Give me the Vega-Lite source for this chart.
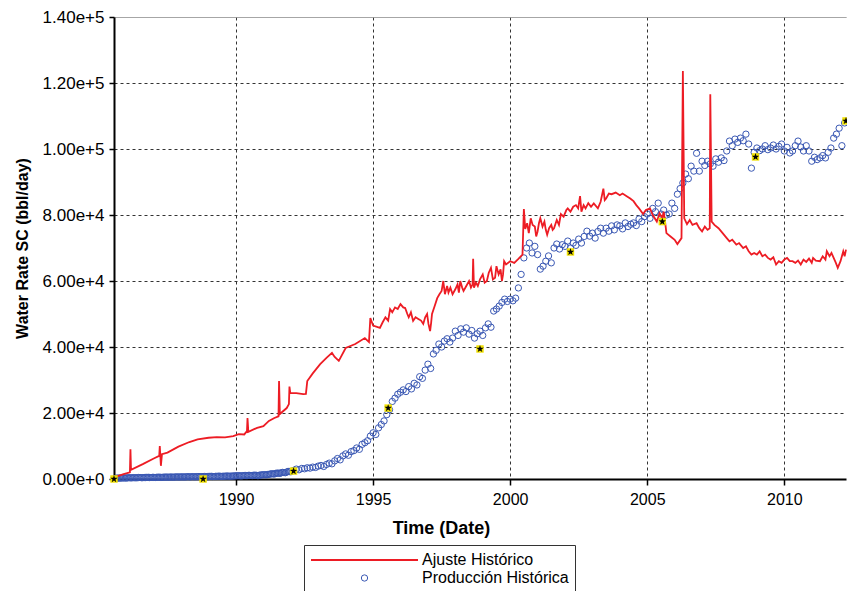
{
"$schema": "https://vega.github.io/schema/vega-lite/v6.json",
"width": 732, "height": 462,
"autosize": {"type": "none"},
"padding": {"left": 114, "top": 17, "right": 1, "bottom": 112},
"background": "white",
"config": {
  "view": {"stroke": null},
  "axis": {"domainColor": "black", "domainWidth": 2, "tickColor": "black", "tickWidth": 1.5, "gridColor": "#333", "gridWidth": 1, "labelFont": "Liberation Sans", "labelColor": "black", "titleFont": "Liberation Sans", "titleFontWeight": "bold", "titleColor": "black", "labelFlush": false, "labelOverlap": false},
  "legend": {"orient": "none", "legendX": 190, "legendY": 528, "direction": "vertical", "columns": 1, "padding": 6, "strokeColor": "#333", "fillColor": "white", "labelFont": "Liberation Sans", "labelFontSize": 16, "labelColor": "black", "labelLimit": 400, "labelOffset": 3, "clipHeight": 18, "rowPadding": 0}
},
"datasets": {
  "red": [
    {"t":1985.55,"v":500},{"t":1985.9,"v":1500},{"t":1986.13,"v":2000},{"t":1986.15,"v":9000},{"t":1986.17,"v":2800},{"t":1986.6,"v":4500},{"t":1987.0,"v":6200},{"t":1987.2,"v":7000},{"t":1987.22,"v":10000},{"t":1987.26,"v":4000},{"t":1987.3,"v":7500},{"t":1987.5,"v":8000},{"t":1987.9,"v":9800},{"t":1988.3,"v":11200},{"t":1988.6,"v":12000},{"t":1989.0,"v":12500},{"t":1989.3,"v":12700},{"t":1989.6,"v":12600},{"t":1989.9,"v":13000},{"t":1990.1,"v":13600},{"t":1990.3,"v":13500},{"t":1990.4,"v":14500},{"t":1990.42,"v":18500},{"t":1990.45,"v":14300},{"t":1990.77,"v":15500},{"t":1991.0,"v":16000},{"t":1991.2,"v":17600},{"t":1991.4,"v":18500},{"t":1991.55,"v":19000},{"t":1991.57,"v":29700},{"t":1991.6,"v":19700},{"t":1991.85,"v":21500},{"t":1991.93,"v":22700},{"t":1991.95,"v":28000},{"t":1991.98,"v":26000},{"t":1992.2,"v":26000},{"t":1992.45,"v":25700},{"t":1992.55,"v":25800},{"t":1992.6,"v":29700},{"t":1992.8,"v":32000},{"t":1993.07,"v":34800},{"t":1993.3,"v":36700},{"t":1993.5,"v":38200},{"t":1993.6,"v":37000},{"t":1993.75,"v":35800},{"t":1994.0,"v":39700},{"t":1994.35,"v":40900},{"t":1994.7,"v":42700},{"t":1994.85,"v":41500},{"t":1994.9,"v":48800},{"t":1995.0,"v":46500},
    {"t":1995.25,"v":45800},{"t":1995.35,"v":47500},{"t":1995.45,"v":49000},{"t":1995.55,"v":48000},{"t":1995.62,"v":51500},{"t":1995.7,"v":50500},{"t":1995.8,"v":52000},{"t":1995.9,"v":51500},{"t":1996.0,"v":53000},{"t":1996.1,"v":52000},{"t":1996.17,"v":51800},{"t":1996.25,"v":50000},{"t":1996.3,"v":49000},{"t":1996.38,"v":50500},{"t":1996.46,"v":47900},{"t":1996.55,"v":49000},{"t":1996.65,"v":48500},{"t":1996.75,"v":48000},{"t":1996.83,"v":47000},{"t":1996.9,"v":49000},{"t":1996.97,"v":50000},{"t":1997.02,"v":47000},{"t":1997.08,"v":44800},{"t":1997.12,"v":47500},{"t":1997.15,"v":50000},{"t":1997.25,"v":52500},{"t":1997.34,"v":54800},{"t":1997.42,"v":56000},{"t":1997.5,"v":57000},{"t":1997.56,"v":60000},{"t":1997.62,"v":56000},{"t":1997.7,"v":58500},{"t":1997.75,"v":56500},{"t":1997.82,"v":58000},{"t":1997.9,"v":56000},{"t":1998.0,"v":57500},{"t":1998.08,"v":59000},{"t":1998.13,"v":56500},{"t":1998.18,"v":60000},{"t":1998.25,"v":58000},{"t":1998.3,"v":57000},{"t":1998.4,"v":58500},{"t":1998.5,"v":60000},{"t":1998.57,"v":58000},{"t":1998.63,"v":59000},{"t":1998.65,"v":66700},{"t":1998.68,"v":58000},{"t":1998.75,"v":59500},{"t":1998.82,"v":58500},{"t":1998.9,"v":60500},{"t":1999.0,"v":62000},{"t":1999.07,"v":59500},{"t":1999.15,"v":60000},{"t":1999.22,"v":62500},{"t":1999.3,"v":64000},{"t":1999.37,"v":60500},{"t":1999.45,"v":61000},{"t":1999.5,"v":64500},{"t":1999.58,"v":62000},{"t":1999.65,"v":63500},{"t":1999.7,"v":60000},{"t":1999.74,"v":62000},{"t":1999.78,"v":66000},{"t":1999.85,"v":65000},
    {"t":2000.0,"v":66000},{"t":2000.15,"v":65500},{"t":2000.3,"v":66700},{"t":2000.45,"v":68000},{"t":2000.5,"v":81800},{"t":2000.55,"v":75800},{"t":2000.62,"v":77500},{"t":2000.68,"v":74500},{"t":2000.75,"v":79000},{"t":2000.82,"v":77000},{"t":2000.9,"v":76500},{"t":2000.95,"v":73500},{"t":2001.0,"v":75000},{"t":2001.05,"v":77500},{"t":2001.1,"v":79000},{"t":2001.18,"v":76500},{"t":2001.25,"v":78000},{"t":2001.3,"v":75500},{"t":2001.35,"v":74000},{"t":2001.42,"v":76000},{"t":2001.5,"v":77000},{"t":2001.55,"v":75500},{"t":2001.6,"v":76000},{"t":2001.7,"v":78500},{"t":2001.78,"v":77000},{"t":2001.85,"v":80300},{"t":2001.95,"v":79500},{"t":2002.05,"v":81500},{"t":2002.1,"v":82000},{"t":2002.2,"v":81000},{"t":2002.3,"v":82500},{"t":2002.4,"v":83000},{"t":2002.48,"v":82000},{"t":2002.55,"v":85700},{"t":2002.6,"v":81000},{"t":2002.68,"v":83000},{"t":2002.75,"v":82000},{"t":2002.85,"v":83600},{"t":2002.95,"v":82500},{"t":2003.05,"v":83500},{"t":2003.2,"v":82000},{"t":2003.3,"v":84000},{"t":2003.4,"v":88000},{"t":2003.45,"v":84500},{"t":2003.5,"v":85000},{"t":2003.6,"v":86500},{"t":2003.7,"v":86300},{"t":2003.85,"v":86800},{"t":2004.0,"v":86000},{"t":2004.1,"v":86500},{"t":2004.25,"v":85700},{"t":2004.38,"v":85000},{"t":2004.5,"v":84200},{"t":2004.6,"v":83000},{"t":2004.7,"v":82000},{"t":2004.85,"v":80300},{"t":2004.95,"v":81500},{"t":2005.1,"v":82000},{"t":2005.2,"v":80000},{"t":2005.35,"v":78000},{"t":2005.45,"v":80500},{"t":2005.55,"v":79000},{"t":2005.6,"v":81000},{"t":2005.65,"v":78000},{"t":2005.7,"v":74500},{"t":2005.85,"v":73500},{"t":2006.0,"v":72500},{"t":2006.1,"v":71200},{"t":2006.25,"v":73000},{"t":2006.3,"v":123600},{"t":2006.35,"v":79000},{"t":2006.45,"v":77200},{"t":2006.55,"v":78500},{"t":2006.65,"v":77000},{"t":2006.8,"v":77500},{"t":2006.9,"v":76000},{"t":2007.0,"v":75000},{"t":2007.1,"v":76500},{"t":2007.2,"v":75500},{"t":2007.28,"v":76000},{"t":2007.3,"v":116600},{"t":2007.35,"v":78000},{"t":2007.45,"v":77000},{"t":2007.6,"v":76000},{"t":2007.75,"v":74500},{"t":2007.9,"v":73000},{"t":2008.0,"v":72000},{"t":2008.1,"v":72500},{"t":2008.25,"v":71000},{"t":2008.35,"v":71500},{"t":2008.5,"v":70000},{"t":2008.6,"v":70500},{"t":2008.7,"v":69000},{"t":2008.8,"v":68000},{"t":2008.9,"v":68500},{"t":2009.0,"v":68000},{"t":2009.1,"v":69000},{"t":2009.2,"v":67500},{"t":2009.3,"v":68000},{"t":2009.4,"v":67000},{"t":2009.5,"v":66500},{"t":2009.6,"v":67200},{"t":2009.7,"v":65000},{"t":2009.8,"v":66000},{"t":2009.9,"v":65500},{"t":2010.0,"v":66500},{"t":2010.1,"v":67000},{"t":2010.2,"v":66000},{"t":2010.3,"v":66000},{"t":2010.4,"v":65500},{"t":2010.5,"v":66200},{"t":2010.6,"v":65000},{"t":2010.7,"v":66500},{"t":2010.8,"v":65800},{"t":2010.9,"v":66800},{"t":2011.0,"v":65500},{"t":2011.05,"v":67000},{"t":2011.15,"v":66200},{"t":2011.3,"v":66000},{"t":2011.4,"v":67500},{"t":2011.5,"v":66500},{"t":2011.55,"v":69000},{"t":2011.65,"v":67500},{"t":2011.72,"v":68500},{"t":2011.8,"v":67000},{"t":2011.88,"v":65500},{"t":2011.95,"v":64000},{"t":2012.05,"v":66000},{"t":2012.15,"v":69000},{"t":2012.2,"v":67500},{"t":2012.25,"v":69500}
  ],
  "blue": [
    {"t":1985.6,"v":200},{"t":1985.65,"v":250},{"t":1985.7,"v":300},{"t":1985.75,"v":250},{"t":1985.8,"v":300},{"t":1985.85,"v":300},{"t":1985.9,"v":350},{"t":1985.95,"v":300},{"t":1986.0,"v":300},{"t":1986.05,"v":350},{"t":1986.1,"v":400},{"t":1986.15,"v":350},{"t":1986.2,"v":350},{"t":1986.25,"v":400},{"t":1986.3,"v":400},{"t":1986.35,"v":350},{"t":1986.4,"v":400},{"t":1986.45,"v":450},{"t":1986.5,"v":450},{"t":1986.55,"v":400},{"t":1986.6,"v":400},{"t":1986.65,"v":450},{"t":1986.7,"v":450},{"t":1986.75,"v":500},{"t":1986.8,"v":500},{"t":1986.85,"v":450},{"t":1986.9,"v":450},{"t":1986.95,"v":500},{"t":1987.0,"v":500},{"t":1987.05,"v":450},{"t":1987.1,"v":500},{"t":1987.15,"v":550},{"t":1987.2,"v":550},{"t":1987.25,"v":500},{"t":1987.3,"v":500},{"t":1987.35,"v":550},{"t":1987.4,"v":550},{"t":1987.45,"v":600},{"t":1987.5,"v":550},{"t":1987.55,"v":550},{"t":1987.6,"v":600},{"t":1987.65,"v":600},{"t":1987.7,"v":550},{"t":1987.75,"v":600},{"t":1987.8,"v":600},{"t":1987.85,"v":650},{"t":1987.9,"v":600},{"t":1987.95,"v":600},{"t":1988.0,"v":650},{"t":1988.05,"v":650},{"t":1988.1,"v":600},{"t":1988.15,"v":650},{"t":1988.2,"v":650},{"t":1988.25,"v":700},{"t":1988.3,"v":650},{"t":1988.35,"v":650},{"t":1988.4,"v":700},{"t":1988.45,"v":700},{"t":1988.5,"v":650},{"t":1988.55,"v":700},{"t":1988.6,"v":700},{"t":1988.65,"v":750},{"t":1988.7,"v":700},{"t":1988.75,"v":700},{"t":1988.8,"v":750},{"t":1988.85,"v":750},{"t":1988.9,"v":700},{"t":1988.95,"v":750},{"t":1989.0,"v":750},{"t":1989.05,"v":800},{"t":1989.1,"v":800},{"t":1989.15,"v":750},{"t":1989.2,"v":750},{"t":1989.25,"v":800},{"t":1989.3,"v":800},{"t":1989.35,"v":850},{"t":1989.4,"v":850},{"t":1989.45,"v":800},{"t":1989.5,"v":800},{"t":1989.55,"v":850},{"t":1989.6,"v":850},{"t":1989.65,"v":900},{"t":1989.7,"v":900},{"t":1989.75,"v":850},{"t":1989.8,"v":850},{"t":1989.85,"v":900},{"t":1989.9,"v":900},{"t":1989.95,"v":950},
    {"t":1990.0,"v":950},{"t":1990.05,"v":1000},{"t":1990.1,"v":1000},{"t":1990.15,"v":950},{"t":1990.2,"v":950},{"t":1990.25,"v":1000},{"t":1990.3,"v":1050},{"t":1990.35,"v":1050},{"t":1990.4,"v":1000},{"t":1990.45,"v":1100},{"t":1990.5,"v":1100},{"t":1990.55,"v":1050},{"t":1990.6,"v":1050},{"t":1990.65,"v":1150},{"t":1990.7,"v":1150},{"t":1990.75,"v":1100},{"t":1990.8,"v":1000},{"t":1990.85,"v":1150},{"t":1990.9,"v":1200},{"t":1990.95,"v":1250},{"t":1991.0,"v":1300},{"t":1991.05,"v":1300},{"t":1991.1,"v":1250},{"t":1991.15,"v":1350},{"t":1991.2,"v":1400},{"t":1991.25,"v":1500},{"t":1991.3,"v":1600},{"t":1991.35,"v":1550},{"t":1991.4,"v":1500},{"t":1991.45,"v":1700},{"t":1991.5,"v":1800},{"t":1991.55,"v":1750},{"t":1991.6,"v":1700},{"t":1991.65,"v":1900},{"t":1991.7,"v":2000},{"t":1991.75,"v":1950},{"t":1991.8,"v":1900},{"t":1991.85,"v":2100},{"t":1991.9,"v":2300},{"t":1991.95,"v":2250},{"t":1992.0,"v":2200},{"t":1992.1,"v":2600},{"t":1992.2,"v":3000},{"t":1992.3,"v":2800},{"t":1992.4,"v":3200},{"t":1992.5,"v":3100},{"t":1992.6,"v":3400},{"t":1992.7,"v":3300},{"t":1992.8,"v":3600},{"t":1992.9,"v":3500},{"t":1993.0,"v":3900},{"t":1993.1,"v":4100},{"t":1993.2,"v":3800},{"t":1993.3,"v":4400},{"t":1993.4,"v":4800},{"t":1993.5,"v":4600},{"t":1993.6,"v":5500},{"t":1993.7,"v":6200},{"t":1993.8,"v":5800},{"t":1993.9,"v":7000},{"t":1994.0,"v":7600},{"t":1994.1,"v":7200},{"t":1994.2,"v":8300},{"t":1994.3,"v":8600},{"t":1994.4,"v":9400},{"t":1994.5,"v":9000},{"t":1994.6,"v":10500},{"t":1994.7,"v":11000},{"t":1994.8,"v":11600},{"t":1994.9,"v":13000},{"t":1995.0,"v":14000},{"t":1995.1,"v":13500},{"t":1995.2,"v":15500},{"t":1995.3,"v":16500},{"t":1995.4,"v":17600},{"t":1995.5,"v":19500},{"t":1995.6,"v":21000},{"t":1995.7,"v":23500},{"t":1995.8,"v":24500},{"t":1995.9,"v":25700},
    {"t":1996.0,"v":26300},{"t":1996.1,"v":27000},{"t":1996.2,"v":26500},{"t":1996.3,"v":28000},{"t":1996.4,"v":27300},{"t":1996.5,"v":29000},{"t":1996.6,"v":28500},{"t":1996.7,"v":31000},{"t":1996.8,"v":30500},{"t":1996.9,"v":33000},{"t":1997.0,"v":34800},{"t":1997.1,"v":33500},{"t":1997.2,"v":37900},{"t":1997.3,"v":39000},{"t":1997.4,"v":40900},{"t":1997.5,"v":40000},{"t":1997.6,"v":41800},{"t":1997.7,"v":42500},{"t":1997.8,"v":41500},{"t":1997.9,"v":42700},{"t":1998.0,"v":44800},{"t":1998.1,"v":43500},{"t":1998.2,"v":45500},{"t":1998.3,"v":44500},{"t":1998.4,"v":45800},{"t":1998.5,"v":43900},{"t":1998.6,"v":45000},{"t":1998.7,"v":42700},{"t":1998.8,"v":44000},{"t":1998.9,"v":44800},{"t":1999.0,"v":43500},{"t":1999.1,"v":45800},{"t":1999.2,"v":47000},{"t":1999.3,"v":46000},{"t":1999.4,"v":50900},{"t":1999.5,"v":51500},{"t":1999.6,"v":52400},{"t":1999.7,"v":53500},{"t":1999.8,"v":54500},{"t":1999.9,"v":53800},
    {"t":2000.0,"v":54500},{"t":2000.1,"v":54000},{"t":2000.2,"v":54800},{"t":2000.3,"v":57900},{"t":2000.4,"v":62000},{"t":2000.5,"v":67000},{"t":2000.6,"v":70000},{"t":2000.7,"v":71500},{"t":2000.8,"v":68500},{"t":2000.9,"v":70500},{"t":2001.0,"v":68000},{"t":2001.1,"v":63600},{"t":2001.2,"v":64500},{"t":2001.3,"v":66000},{"t":2001.4,"v":67600},{"t":2001.5,"v":65500},{"t":2001.6,"v":70000},{"t":2001.7,"v":71200},{"t":2001.8,"v":69700},{"t":2001.9,"v":71000},{"t":2002.0,"v":70500},{"t":2002.1,"v":72100},{"t":2002.2,"v":70000},{"t":2002.3,"v":71500},{"t":2002.4,"v":70800},{"t":2002.5,"v":72700},{"t":2002.6,"v":71500},{"t":2002.7,"v":73500},{"t":2002.8,"v":75100},{"t":2002.9,"v":73600},{"t":2003.0,"v":74500},{"t":2003.1,"v":73000},{"t":2003.2,"v":75000},{"t":2003.3,"v":76000},{"t":2003.4,"v":74500},{"t":2003.5,"v":76000},{"t":2003.6,"v":75100},{"t":2003.7,"v":76700},{"t":2003.8,"v":75500},{"t":2003.9,"v":77000},{"t":2004.0,"v":76700},{"t":2004.1,"v":75800},{"t":2004.2,"v":77600},{"t":2004.3,"v":76500},{"t":2004.4,"v":77200},{"t":2004.5,"v":77600},{"t":2004.6,"v":76800},{"t":2004.7,"v":78800},{"t":2004.8,"v":78000},{"t":2004.9,"v":79500},
    {"t":2005.0,"v":80300},{"t":2005.1,"v":79000},{"t":2005.2,"v":82000},{"t":2005.3,"v":81000},{"t":2005.4,"v":83600},{"t":2005.5,"v":80300},{"t":2005.6,"v":81500},{"t":2005.7,"v":80000},{"t":2005.8,"v":80300},{"t":2005.9,"v":83600},{"t":2006.0,"v":82000},{"t":2006.1,"v":86300},{"t":2006.2,"v":88000},{"t":2006.3,"v":89700},{"t":2006.4,"v":92400},{"t":2006.5,"v":91000},{"t":2006.6,"v":94800},{"t":2006.7,"v":93300},{"t":2006.8,"v":98700},{"t":2006.9,"v":93300},{"t":2007.0,"v":96300},{"t":2007.1,"v":95000},{"t":2007.2,"v":96300},{"t":2007.3,"v":95500},{"t":2007.4,"v":94800},{"t":2007.5,"v":97000},{"t":2007.6,"v":96000},{"t":2007.7,"v":97300},{"t":2007.8,"v":96500},{"t":2007.9,"v":99400},{"t":2008.0,"v":102400},{"t":2008.1,"v":101000},{"t":2008.2,"v":103000},{"t":2008.3,"v":102000},{"t":2008.4,"v":103300},{"t":2008.5,"v":102500},{"t":2008.6,"v":104500},{"t":2008.7,"v":101500},{"t":2008.8,"v":94200},{"t":2008.9,"v":99000},{"t":2009.0,"v":100300},{"t":2009.1,"v":99500},{"t":2009.2,"v":100000},{"t":2009.3,"v":101000},{"t":2009.4,"v":99800},{"t":2009.5,"v":100300},{"t":2009.6,"v":101200},{"t":2009.7,"v":100000},{"t":2009.8,"v":100800},{"t":2009.9,"v":101500},
    {"t":2010.0,"v":99400},{"t":2010.1,"v":100500},{"t":2010.2,"v":98800},{"t":2010.3,"v":99400},{"t":2010.4,"v":101000},{"t":2010.5,"v":102400},{"t":2010.6,"v":100600},{"t":2010.7,"v":99400},{"t":2010.8,"v":101000},{"t":2010.9,"v":99400},{"t":2011.0,"v":96300},{"t":2011.1,"v":97500},{"t":2011.2,"v":96800},{"t":2011.3,"v":97300},{"t":2011.4,"v":98000},{"t":2011.5,"v":97300},{"t":2011.6,"v":99000},{"t":2011.7,"v":100300},{"t":2011.8,"v":103300},{"t":2011.9,"v":104500},{"t":2012.0,"v":106300},{"t":2012.1,"v":101000},{"t":2012.2,"v":107900}
  ],
  "stars": [
    {"t":1985.55,"v":0},{"t":1988.8,"v":0},{"t":1992.1,"v":2400},{"t":1995.55,"v":21500},{"t":1998.9,"v":39400},{"t":2002.2,"v":68800},{"t":2005.55,"v":78000},{"t":2008.95,"v":97600},{"t":2012.25,"v":108500}
  ]
},
"encoding": {
  "x": {"field": "t", "type": "quantitative", "scale": {"domain": [1985.55, 2012.25], "nice": false, "zero": false},
        "axis": {"title": "Time (Date)", "values": [1990, 1995, 2000, 2005, 2010], "format": "d", "grid": true, "gridDash": [3, 3], "tickSize": 6, "labelFontSize": 16, "labelPadding": 6, "titleFontSize": 18, "titleX": 327, "titleY": 54, "titleAlign": "center", "titleBaseline": "alphabetic"}},
  "y": {"field": "v", "type": "quantitative", "scale": {"domain": [0, 140000], "nice": false},
        "axis": {"title": "Water Rate SC (bbl/day)", "values": [0, 20000, 40000, 60000, 80000, 100000, 120000, 140000], "format": ".2e", "grid": true,
                 "gridDash": {"condition": {"test": "datum.value === 140000", "value": [1, 0]}, "value": [3, 3]},
                 "gridColor": {"condition": {"test": "datum.value === 140000", "value": "#888"}, "value": "#333"},
                 "tickSize": 5, "labelFontSize": 17, "labelPadding": 5, "titleFontSize": 16, "titleX": -92, "titleY": 231, "titleAngle": -90, "titleAlign": "center", "titleBaseline": "middle"}}
},
"layer": [
  {"data": {"name": "blue"},
   "mark": {"type": "point", "filled": false, "opacity": 1, "clip": false},
   "encoding": {
     "color": {"datum": "Producción Histórica", "type": "nominal", "scale": {"domain": ["Ajuste Histórico", "Producción Histórica"], "range": ["#ed1c24", "#3a58b4"]}, "legend": {"title": null}},
     "shape": {"datum": "Producción Histórica", "type": "nominal", "scale": {"domain": ["Ajuste Histórico", "Producción Histórica"], "range": ["stroke", "circle"]}, "legend": {"title": null}},
     "size": {"datum": "Producción Histórica", "type": "nominal", "scale": {"type": "ordinal", "domain": ["Ajuste Histórico", "Producción Histórica"], "range": [11449, 40]}, "legend": {"title": null}},
     "strokeWidth": {"datum": "Producción Histórica", "type": "nominal", "scale": {"type": "ordinal", "domain": ["Ajuste Histórico", "Producción Histórica"], "range": [2, 1]}, "legend": {"title": null}}
   }},
  {"data": {"name": "red"},
   "mark": {"type": "line", "strokeWidth": 1.8, "clip": false},
   "encoding": {
     "color": {"datum": "Ajuste Histórico", "type": "nominal", "scale": {"domain": ["Ajuste Histórico", "Producción Histórica"], "range": ["#ed1c24", "#3a58b4"]}, "legend": {"title": null}}
   }},
  {"data": {"name": "stars"},
   "mark": {"type": "square", "color": "#f0e000", "size": 55, "opacity": 1, "clip": false},
   "encoding": {}},
  {"data": {"name": "stars"},
   "mark": {"type": "point", "shape": "M0,-1L0.235,-0.324L0.951,-0.309L0.380,0.124L0.588,0.809L0,0.4L-0.588,0.809L-0.380,0.124L-0.951,-0.309L-0.235,-0.324Z", "filled": true, "color": "black", "size": 60, "opacity": 1, "clip": false},
   "encoding": {}}
]
}
